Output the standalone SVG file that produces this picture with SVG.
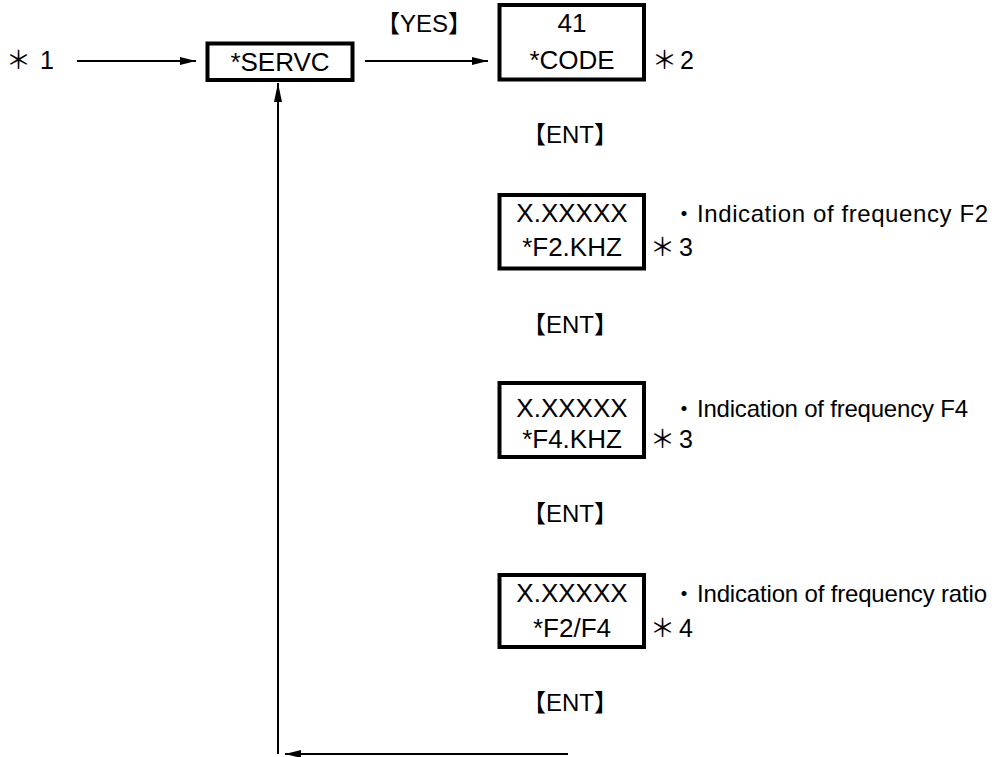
<svg xmlns="http://www.w3.org/2000/svg" width="1000" height="757" viewBox="0 0 1000 757">
<defs>
<style>
.box{fill:#fff;stroke:#000;stroke-width:4}
.t{font-family:"Liberation Sans","Noto Sans CJK JP",sans-serif;font-size:26px;fill:#000}
.c{text-anchor:middle}
.k{font-family:"Liberation Sans","Noto Sans CJK JP",sans-serif;font-size:24px;fill:#000;text-anchor:middle}
.n{font-family:"Liberation Sans","Noto Sans CJK JP",sans-serif;font-size:25px;fill:#000}
.s{font-family:"Liberation Sans","Noto Sans CJK JP",sans-serif;font-size:24px;fill:#000}
.ln{stroke:#000;stroke-width:2;fill:none}
</style>
<marker id="ah" viewBox="0 0 16 8" refX="16" refY="4" markerWidth="16" markerHeight="8" markerUnits="userSpaceOnUse" orient="auto">
<path d="M0,0 L16,4 L0,8 Z" fill="#000"/>
</marker>
<marker id="ahv" viewBox="0 0 19 8" refX="19" refY="4" markerWidth="19" markerHeight="8" markerUnits="userSpaceOnUse" orient="auto">
<path d="M0,0 L19,4 L0,8 Z" fill="#000"/>
</marker>
</defs>
<rect width="1000" height="757" fill="#fff"/>
<g id="connectors">
<line class="ln" x1="77" y1="61" x2="196" y2="61" marker-end="url(#ah)"/>
<line class="ln" x1="365" y1="61" x2="488" y2="61" marker-end="url(#ah)"/>
<line class="ln" x1="568" y1="754" x2="285" y2="754" marker-end="url(#ah)"/>
<line class="ln" x1="278" y1="754" x2="278" y2="83" marker-end="url(#ahv)"/>
</g>
<g id="labels">
<text class="n" x="6" y="69">＊<tspan x="40">1</tspan></text>
<text class="k" x="424" y="32">【YES】</text>
<text class="k" x="570" y="143">【ENT】</text>
<text class="k" x="570" y="333">【ENT】</text>
<text class="k" x="570" y="522">【ENT】</text>
<text class="k" x="570" y="711">【ENT】</text>
</g>
<g id="servc">
<rect class="box" x="207.5" y="43.5" width="145" height="36.5"/>
<text class="t c" x="280" y="71">*SERVC</text>
</g>
<g id="code">
<rect class="box" x="499.5" y="5" width="144.5" height="74.5"/>
<text class="t c" x="572" y="32">41</text>
<text class="t c" x="572" y="69">*CODE</text>
<text class="n" x="652" y="69">＊<tspan x="680">2</tspan></text>
</g>
<g id="f2">
<rect class="box" x="499.5" y="195" width="144.5" height="73.5"/>
<text class="t c" x="572" y="222">X.XXXXX</text>
<text class="t c" x="572" y="256">*F2.KHZ</text>
<text class="n" x="650" y="256">＊<tspan x="679">3</tspan></text>
<text class="s" x="672" y="222">・<tspan x="697" textLength="291" lengthAdjust="spacing">Indication of frequency F2</tspan></text>
</g>
<g id="f4">
<rect class="box" x="499.5" y="383" width="144.5" height="74"/>
<text class="t c" x="572" y="417">X.XXXXX</text>
<text class="t c" x="572" y="448">*F4.KHZ</text>
<text class="n" x="650" y="448">＊<tspan x="679">3</tspan></text>
<text class="s" x="672" y="417">・<tspan x="697" textLength="271" lengthAdjust="spacing">Indication of frequency F4</tspan></text>
</g>
<g id="ratio">
<rect class="box" x="499.5" y="575" width="144.5" height="72"/>
<text class="t c" x="572" y="602">X.XXXXX</text>
<text class="t c" x="572" y="637">*F2/F4</text>
<text class="n" x="650" y="637">＊<tspan x="679">4</tspan></text>
<text class="s" x="672" y="602">・<tspan x="697" textLength="290" lengthAdjust="spacing">Indication of frequency ratio</tspan></text>
</g>
</svg>
